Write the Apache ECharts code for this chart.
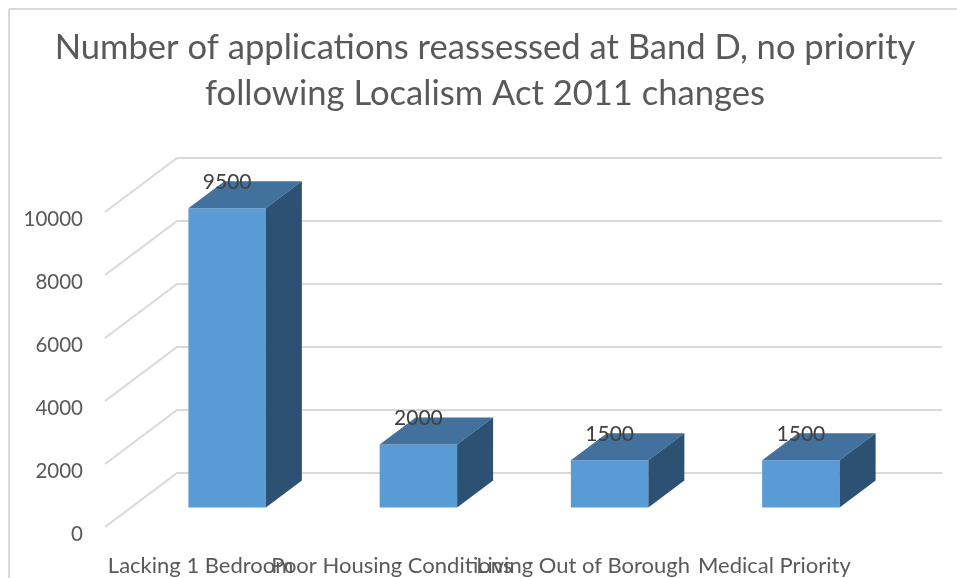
<!DOCTYPE html>
<html>
<head>
<meta charset="utf-8">
<style>html,body{margin:0;padding:0;background:#fff}#c{width:957px;height:578px}</style>
<script src="https://cdn.jsdelivr.net/npm/echarts@6/dist/echarts.min.js"></script>
</head>
<body>
<div id="c"></div>
<script>
const categories = ['Lacking 1 Bedroom', 'Poor Housing Conditions', 'Living Out of Borough', 'Medical Priority'];
const applications = [9500, 2000, 1500, 1500];
const wallTicks = [0, 2000, 4000, 6000, 8000, 10000];
const titleText = 'Number of applications reassessed at Band D, no priority\nfollowing Localism Act 2011 changes';

const FONT = 'Lato';
const WALL_DX = 72, WALL_DY = 54;      // depth of the floor
const BAR_DX = 26.5, BAR_DY = 19.5;    // front face offset from the front edge
const DEPTH_DX = 36, DEPTH_DY = 27;    // bar depth
const BAR_RATIO = 0.405;

const chart = echarts.init(document.getElementById('c'), null, {renderer: 'canvas'});
chart.setOption({
  animation: false,
  backgroundColor: '#fff',
  title: {
    text: titleText, left: 480, top: 20, textAlign: 'center',
    textStyle: {fontFamily: FONT, fontSize: 34.6, fontWeight: 'normal', color: '#595959', lineHeight: 46}
  },
  graphic: [
    {type: 'line', shape: {x1: 9, y1: 9, x2: 957, y2: 9}, style: {stroke: '#d9d9d9', lineWidth: 2}},
    {type: 'line', shape: {x1: 9, y1: 9, x2: 9, y2: 578}, style: {stroke: '#d9d9d9', lineWidth: 2}}
  ],
  grid: {left: 105, top: 212, width: 765, height: 315},
  xAxis: {
    type: 'category', data: categories,
    axisLine: {show: false}, axisTick: {show: false}, splitLine: {show: false},
    axisLabel: {interval: 0, hideOverlap: false, margin: 28, fontFamily: FONT, fontSize: 22, color: '#595959'}
  },
  yAxis: {
    type: 'value', min: 0, max: 10000, interval: 2000,
    axisLine: {show: false}, axisTick: {show: false}, splitLine: {show: false},
    axisLabel: {margin: 22, verticalAlign: 'top', lineHeight: 14, fontFamily: FONT, fontSize: 20.5, color: '#595959', formatter: v => String(v)}
  },
  series: [
    {
      type: 'custom', z: 1, silent: true, clip: false,
      data: wallTicks.map(t => [categories[0], t]),
      encode: {x: 0, y: 1},
      renderItem(params, api) {
        const y = api.coord([api.value(0), api.value(1)])[1];
        const x0 = params.coordSys.x, w = params.coordSys.width;
        return {
          type: 'polyline',
          shape: {points: [[x0, y], [x0 + WALL_DX, y - WALL_DY], [x0 + WALL_DX + w, y - WALL_DY]]},
          style: {fill: 'none', stroke: '#d9d9d9', lineWidth: 2}
        };
      }
    },
    {
      type: 'custom', z: 2, silent: true, clip: false,
      data: categories.map((c, i) => [c, applications[i]]),
      encode: {x: 0, y: 1},
      renderItem(params, api) {
        const c = api.value(0), v = api.value(1);
        const top = api.coord([c, v]), base = api.coord([c, 0]);
        const bw = api.size([1, 0])[0] * BAR_RATIO;
        const l = top[0] - bw / 2 + BAR_DX, r = l + bw;
        const t = top[1] - BAR_DY, b = base[1] - BAR_DY;
        return {
          type: 'group',
          children: [
            {type: 'rect', shape: {x: l, y: t, width: bw, height: b - t}, style: {fill: '#5b9bd5'}},
            {type: 'polygon', shape: {points: [[l, t], [r, t], [r + DEPTH_DX, t - DEPTH_DY], [l + DEPTH_DX, t - DEPTH_DY]]}, style: {fill: '#41719c'}},
            {type: 'polygon', shape: {points: [[r, t], [r + DEPTH_DX, t - DEPTH_DY], [r + DEPTH_DX, b - DEPTH_DY], [r, b]]}, style: {fill: '#2c5172'}},
            {type: 'text', style: {
              text: String(v), x: (l + r) / 2, y: t - 26, align: 'center', verticalAlign: 'middle',
              fontFamily: FONT, fontSize: 21, fill: '#404040'
            }}
          ]
        };
      }
    }
  ]
});
</script>
</body>
</html>
